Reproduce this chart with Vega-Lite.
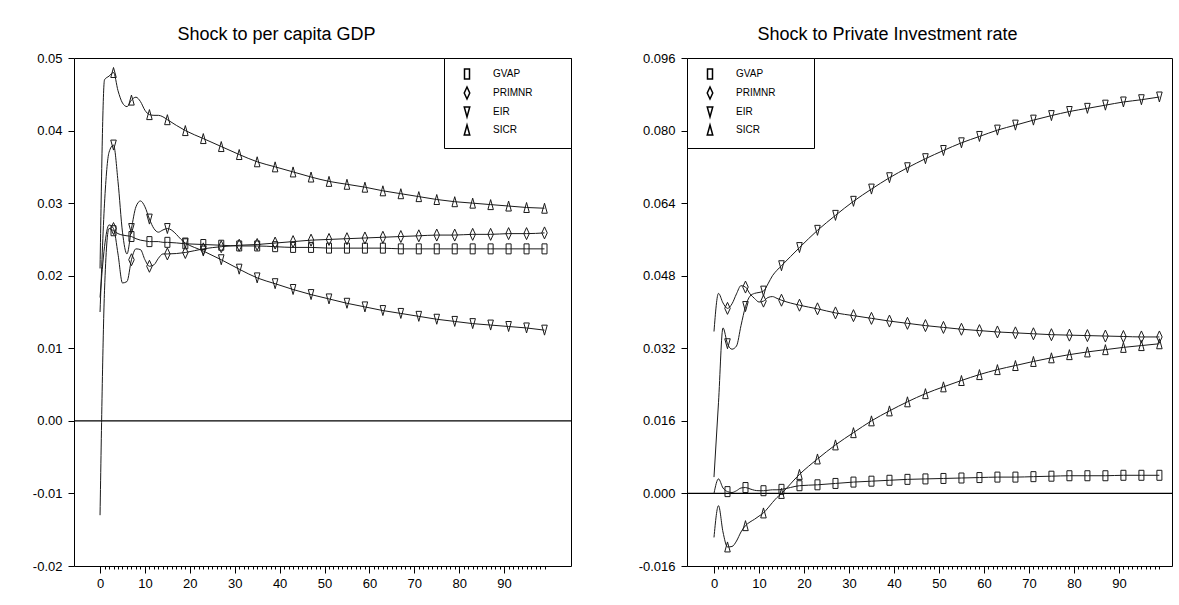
{
  "$schema": "https://vega.github.io/schema/vega-lite/v6.json",
  "background": "white",
  "padding": {"left": 31, "top": 25, "right": 0, "bottom": 0},
  "config": {
    "font": "'Liberation Sans', Arial, sans-serif",
    "view": {"stroke": "black", "strokeWidth": 1},
    "axis": {"domain": false, "grid": false, "tickColor": "black", "labelColor": "black", "labelFontSize": 13, "labelFont": "'Liberation Sans', Arial, sans-serif", "title": null},
    "title": {"fontSize": 18, "fontWeight": "normal", "color": "black", "offset": 8, "font": "'Liberation Sans', Arial, sans-serif"}
  },
  "datasets": {
    "gdp": [
      {"t": 0, "GVAP": -0.013, "PRIMNR": 0.017, "EIR": 0.015, "SICR": 0.021},
      {"t": 1, "GVAP": 0.018, "PRIMNR": 0.024, "EIR": 0.030, "SICR": 0.047},
      {"t": 2, "GVAP": 0.0265, "PRIMNR": 0.027, "EIR": 0.037, "SICR": 0.0475},
      {"t": 3, "GVAP": 0.0262, "PRIMNR": 0.0265, "EIR": 0.038, "SICR": 0.048},
      {"t": 4, "GVAP": 0.0258, "PRIMNR": 0.023, "EIR": 0.033, "SICR": 0.0455},
      {"t": 5, "GVAP": 0.0256, "PRIMNR": 0.019, "EIR": 0.026, "SICR": 0.0438},
      {"t": 6, "GVAP": 0.0255, "PRIMNR": 0.0192, "EIR": 0.023, "SICR": 0.0433},
      {"t": 7, "GVAP": 0.0254, "PRIMNR": 0.0222, "EIR": 0.0265, "SICR": 0.0442},
      {"t": 8, "GVAP": 0.0251, "PRIMNR": 0.0237, "EIR": 0.0295, "SICR": 0.0446},
      {"t": 9, "GVAP": 0.0249, "PRIMNR": 0.0236, "EIR": 0.0303, "SICR": 0.0440},
      {"t": 10, "GVAP": 0.0248, "PRIMNR": 0.0222, "EIR": 0.0295, "SICR": 0.0428},
      {"t": 11, "GVAP": 0.0247, "PRIMNR": 0.0213, "EIR": 0.0278, "SICR": 0.0422},
      {"t": 12, "GVAP": 0.0247, "PRIMNR": 0.0215, "EIR": 0.0265, "SICR": 0.0421},
      {"t": 13, "GVAP": 0.0247, "PRIMNR": 0.0224, "EIR": 0.0260, "SICR": 0.0421},
      {"t": 14, "GVAP": 0.0246, "PRIMNR": 0.0230, "EIR": 0.0263, "SICR": 0.0419},
      {"t": 15, "GVAP": 0.0246, "PRIMNR": 0.0230, "EIR": 0.0265, "SICR": 0.0415},
      {"t": 19, "GVAP": 0.0244, "PRIMNR": 0.0232, "EIR": 0.0245, "SICR": 0.0400},
      {"t": 23, "GVAP": 0.0243, "PRIMNR": 0.0237, "EIR": 0.0234, "SICR": 0.0389},
      {"t": 27, "GVAP": 0.0242, "PRIMNR": 0.0240, "EIR": 0.0222, "SICR": 0.0378},
      {"t": 31, "GVAP": 0.0241, "PRIMNR": 0.0242, "EIR": 0.0209, "SICR": 0.0367},
      {"t": 35, "GVAP": 0.0241, "PRIMNR": 0.0243, "EIR": 0.0197, "SICR": 0.0357},
      {"t": 39, "GVAP": 0.0240, "PRIMNR": 0.0245, "EIR": 0.0189, "SICR": 0.0350},
      {"t": 43, "GVAP": 0.0239, "PRIMNR": 0.0247, "EIR": 0.0181, "SICR": 0.0343},
      {"t": 47, "GVAP": 0.0239, "PRIMNR": 0.0249, "EIR": 0.0174, "SICR": 0.0336},
      {"t": 51, "GVAP": 0.0238, "PRIMNR": 0.0250, "EIR": 0.0168, "SICR": 0.0330},
      {"t": 55, "GVAP": 0.0238, "PRIMNR": 0.0251, "EIR": 0.0162, "SICR": 0.0326},
      {"t": 59, "GVAP": 0.0238, "PRIMNR": 0.0252, "EIR": 0.0157, "SICR": 0.0322},
      {"t": 63, "GVAP": 0.0238, "PRIMNR": 0.0253, "EIR": 0.0152, "SICR": 0.0317},
      {"t": 67, "GVAP": 0.0237, "PRIMNR": 0.0254, "EIR": 0.0148, "SICR": 0.0313},
      {"t": 71, "GVAP": 0.0237, "PRIMNR": 0.0255, "EIR": 0.0144, "SICR": 0.0309},
      {"t": 75, "GVAP": 0.0237, "PRIMNR": 0.0256, "EIR": 0.0140, "SICR": 0.0305},
      {"t": 79, "GVAP": 0.0237, "PRIMNR": 0.0256, "EIR": 0.0137, "SICR": 0.0302},
      {"t": 83, "GVAP": 0.0237, "PRIMNR": 0.0257, "EIR": 0.0134, "SICR": 0.0300},
      {"t": 87, "GVAP": 0.0237, "PRIMNR": 0.0257, "EIR": 0.0132, "SICR": 0.0298},
      {"t": 91, "GVAP": 0.0237, "PRIMNR": 0.0258, "EIR": 0.0130, "SICR": 0.0296},
      {"t": 95, "GVAP": 0.0237, "PRIMNR": 0.0258, "EIR": 0.0128, "SICR": 0.0294},
      {"t": 99, "GVAP": 0.0237, "PRIMNR": 0.0259, "EIR": 0.0125, "SICR": 0.0293}
    ],
    "inv": [
      {"t": 0, "GVAP": 0.0000, "PRIMNR": 0.0357, "EIR": 0.0036, "SICR": -0.0097},
      {"t": 1, "GVAP": 0.0032, "PRIMNR": 0.0441, "EIR": 0.0200, "SICR": -0.0027},
      {"t": 2, "GVAP": 0.0012, "PRIMNR": 0.0420, "EIR": 0.0365, "SICR": -0.0085},
      {"t": 3, "GVAP": 0.0004, "PRIMNR": 0.0408, "EIR": 0.0330, "SICR": -0.0118},
      {"t": 4, "GVAP": 0.0002, "PRIMNR": 0.0418, "EIR": 0.0318, "SICR": -0.0117},
      {"t": 5, "GVAP": 0.0006, "PRIMNR": 0.0440, "EIR": 0.0325, "SICR": -0.0105},
      {"t": 6, "GVAP": 0.0012, "PRIMNR": 0.0458, "EIR": 0.0370, "SICR": -0.0085},
      {"t": 7, "GVAP": 0.0013, "PRIMNR": 0.0455, "EIR": 0.0412, "SICR": -0.0071},
      {"t": 8, "GVAP": 0.0010, "PRIMNR": 0.0440, "EIR": 0.0435, "SICR": -0.0063},
      {"t": 9, "GVAP": 0.0007, "PRIMNR": 0.0430, "EIR": 0.0441, "SICR": -0.0057},
      {"t": 10, "GVAP": 0.0006, "PRIMNR": 0.0422, "EIR": 0.0443, "SICR": -0.0050},
      {"t": 11, "GVAP": 0.0006, "PRIMNR": 0.0424, "EIR": 0.0446, "SICR": -0.0043},
      {"t": 12, "GVAP": 0.0007, "PRIMNR": 0.0432, "EIR": 0.0462, "SICR": -0.0032},
      {"t": 13, "GVAP": 0.0008, "PRIMNR": 0.0434, "EIR": 0.0480, "SICR": -0.0020},
      {"t": 14, "GVAP": 0.0008, "PRIMNR": 0.0430, "EIR": 0.0492, "SICR": -0.0009},
      {"t": 15, "GVAP": 0.0009, "PRIMNR": 0.0426, "EIR": 0.0502, "SICR": 0.0000},
      {"t": 19, "GVAP": 0.0017, "PRIMNR": 0.0415, "EIR": 0.0542, "SICR": 0.0042},
      {"t": 23, "GVAP": 0.0019, "PRIMNR": 0.0407, "EIR": 0.0580, "SICR": 0.0076},
      {"t": 27, "GVAP": 0.0022, "PRIMNR": 0.0398, "EIR": 0.0613, "SICR": 0.0107},
      {"t": 31, "GVAP": 0.0025, "PRIMNR": 0.0392, "EIR": 0.0644, "SICR": 0.0134},
      {"t": 35, "GVAP": 0.0027, "PRIMNR": 0.0386, "EIR": 0.0671, "SICR": 0.0160},
      {"t": 39, "GVAP": 0.0029, "PRIMNR": 0.0380, "EIR": 0.0696, "SICR": 0.0182},
      {"t": 43, "GVAP": 0.0031, "PRIMNR": 0.0375, "EIR": 0.0718, "SICR": 0.0202},
      {"t": 47, "GVAP": 0.0032, "PRIMNR": 0.0370, "EIR": 0.0738, "SICR": 0.0220},
      {"t": 51, "GVAP": 0.0033, "PRIMNR": 0.0366, "EIR": 0.0756, "SICR": 0.0235},
      {"t": 55, "GVAP": 0.0034, "PRIMNR": 0.0362, "EIR": 0.0773, "SICR": 0.0249},
      {"t": 59, "GVAP": 0.0035, "PRIMNR": 0.0359, "EIR": 0.0787, "SICR": 0.0262},
      {"t": 63, "GVAP": 0.0036, "PRIMNR": 0.0356, "EIR": 0.0801, "SICR": 0.0273},
      {"t": 67, "GVAP": 0.0036, "PRIMNR": 0.0354, "EIR": 0.0812, "SICR": 0.0282},
      {"t": 71, "GVAP": 0.0037, "PRIMNR": 0.0352, "EIR": 0.0823, "SICR": 0.0291},
      {"t": 75, "GVAP": 0.0038, "PRIMNR": 0.0350, "EIR": 0.0833, "SICR": 0.0299},
      {"t": 79, "GVAP": 0.0039, "PRIMNR": 0.0349, "EIR": 0.0842, "SICR": 0.0306},
      {"t": 83, "GVAP": 0.0039, "PRIMNR": 0.0348, "EIR": 0.0849, "SICR": 0.0312},
      {"t": 87, "GVAP": 0.0039, "PRIMNR": 0.0347, "EIR": 0.0856, "SICR": 0.0317},
      {"t": 91, "GVAP": 0.0040, "PRIMNR": 0.0346, "EIR": 0.0863, "SICR": 0.0322},
      {"t": 95, "GVAP": 0.0040, "PRIMNR": 0.0345, "EIR": 0.0868, "SICR": 0.0326},
      {"t": 99, "GVAP": 0.0040, "PRIMNR": 0.0345, "EIR": 0.0874, "SICR": 0.0330}
    ]
  },
  "spacing": 64,
  "resolve": {"scale": {"shape": "independent"}, "legend": {"shape": "independent"}},
  "hconcat": [
    {
      "title": {"text": "Shock to per capita GDP", "dx": -46},
      "width": 497,
      "height": 508,
      "data": {"name": "gdp"},
      "transform": [{"fold": ["GVAP", "PRIMNR", "EIR", "SICR"], "as": ["series", "value"]}],
      "resolve": {"axis": {"x": "independent"}},
      "layer": [
        {
          "data": {"values": [{}]},
          "mark": {"type": "rule", "color": "black", "strokeWidth": 1.3},
          "encoding": {"y": {"datum": 0, "type": "quantitative", "scale": {"domain": [-0.02, 0.05], "nice": false, "zero": false}}}
        },
        {
          "mark": {"type": "line", "color": "#1a1a1a", "strokeWidth": 1, "interpolate": "monotone"},
          "encoding": {
            "x": {"field": "t", "type": "quantitative", "scale": {"domain": [-5.8, 104.9], "nice": false, "zero": false},
              "axis": {"orient": "bottom", "values": [0, 10, 20, 30, 40, 50, 60, 70, 80, 90], "tickSize": 7, "labelPadding": 4, "labelFlush": false}},
            "y": {"field": "value", "type": "quantitative", "scale": {"domain": [-0.02, 0.05], "nice": false, "zero": false},
              "axis": {"values": [-0.02, -0.01, 0, 0.01, 0.02, 0.03, 0.04, 0.05], "format": ".2f", "labelExpr": "replace(datum.label, '\u2212', '-')", "tickSize": 6, "labelPadding": 6}},
            "detail": {"field": "series", "type": "nominal"}
          }
        },
        {
          "transform": [{"filter": "(datum.t - 3) % 4 === 0"}],
          "mark": {"type": "point", "filled": false, "stroke": "#1a1a1a", "strokeWidth": 1, "opacity": 1, "size": 100},
          "encoding": {
            "x": {"field": "t", "type": "quantitative", "scale": {"domain": [-5.8, 104.9], "nice": false, "zero": false},
              "axis": {"orient": "bottom", "values": [0,1,2,3,4,5,6,7,8,9,11,12,13,14,15,16,17,18,19,21,22,23,24,25,26,27,28,29,31,32,33,34,35,36,37,38,39,41,42,43,44,45,46,47,48,49,51,52,53,54,55,56,57,58,59,61,62,63,64,65,66,67,68,69,71,72,73,74,75,76,77,78,79,81,82,83,84,85,86,87,88,89,91,92,93,94,95,96,97,98,99], "tickSize": 3, "labels": false}},
            "y": {"field": "value", "type": "quantitative", "scale": {"domain": [-0.02, 0.05], "nice": false, "zero": false}},
            "shape": {"field": "series", "type": "nominal",
              "scale": {"domain": ["GVAP", "PRIMNR", "EIR", "SICR"], "range": ["M-0.5,-1L0.5,-1L0.5,1L-0.5,1Z", "M0,-1.2L0.55,0L0,1.2L-0.55,0Z", "M-0.55,-1L0.55,-1L0,1Z", "M0,-1L0.55,1L-0.55,1Z"]},
              "legend": {"orient": "top-right", "offset": 0, "title": null, "strokeColor": "black", "fillColor": "white", "padding": 10, "rowPadding": 2, "symbolOffset": 7, "labelOffset": 20, "labelFontSize": 10, "labelColor": "black", "symbolSize": 100, "symbolStrokeColor": "black",
                "labelExpr": "datum.label + '\u2800\u2800\u2800\u2800'"}}
          }
        }
      ]
    },
    {
      "title": {"text": "Shock to Private Investment rate", "dx": -42},
      "width": 485,
      "height": 508,
      "data": {"name": "inv"},
      "transform": [{"fold": ["GVAP", "PRIMNR", "EIR", "SICR"], "as": ["series", "value"]}],
      "resolve": {"axis": {"x": "independent"}},
      "layer": [
        {
          "data": {"values": [{}]},
          "mark": {"type": "rule", "color": "black", "strokeWidth": 1.3},
          "encoding": {"y": {"datum": 0, "type": "quantitative", "scale": {"domain": [-0.016, 0.096], "nice": false, "zero": false}}}
        },
        {
          "mark": {"type": "line", "color": "#1a1a1a", "strokeWidth": 1, "interpolate": "monotone"},
          "encoding": {
            "x": {"field": "t", "type": "quantitative", "scale": {"domain": [-6, 101.8], "nice": false, "zero": false},
              "axis": {"orient": "bottom", "values": [0, 10, 20, 30, 40, 50, 60, 70, 80, 90], "tickSize": 7, "labelPadding": 4, "labelFlush": false}},
            "y": {"field": "value", "type": "quantitative", "scale": {"domain": [-0.016, 0.096], "nice": false, "zero": false},
              "axis": {"values": [-0.016, 0, 0.016, 0.032, 0.048, 0.064, 0.08, 0.096], "format": ".3f", "labelExpr": "replace(datum.label, '\u2212', '-')", "tickSize": 6, "labelPadding": 6}},
            "detail": {"field": "series", "type": "nominal"}
          }
        },
        {
          "transform": [{"filter": "(datum.t - 3) % 4 === 0"}],
          "mark": {"type": "point", "filled": false, "stroke": "#1a1a1a", "strokeWidth": 1, "opacity": 1, "size": 100},
          "encoding": {
            "x": {"field": "t", "type": "quantitative", "scale": {"domain": [-6, 101.8], "nice": false, "zero": false},
              "axis": {"orient": "bottom", "values": [0,1,2,3,4,5,6,7,8,9,11,12,13,14,15,16,17,18,19,21,22,23,24,25,26,27,28,29,31,32,33,34,35,36,37,38,39,41,42,43,44,45,46,47,48,49,51,52,53,54,55,56,57,58,59,61,62,63,64,65,66,67,68,69,71,72,73,74,75,76,77,78,79,81,82,83,84,85,86,87,88,89,91,92,93,94,95,96,97,98,99], "tickSize": 3, "labels": false}},
            "y": {"field": "value", "type": "quantitative", "scale": {"domain": [-0.016, 0.096], "nice": false, "zero": false}},
            "shape": {"field": "series", "type": "nominal",
              "scale": {"domain": ["GVAP", "PRIMNR", "EIR", "SICR"], "range": ["M-0.5,-1L0.5,-1L0.5,1L-0.5,1Z", "M0,-1.2L0.55,0L0,1.2L-0.55,0Z", "M-0.55,-1L0.55,-1L0,1Z", "M0,-1L0.55,1L-0.55,1Z"]},
              "legend": {"orient": "top-left", "offset": 0, "title": null, "strokeColor": "black", "fillColor": "white", "padding": 10, "rowPadding": 2, "symbolOffset": 7, "labelOffset": 20, "labelFontSize": 10, "labelColor": "black", "symbolSize": 100, "symbolStrokeColor": "black",
                "labelExpr": "datum.label + '\u2800\u2800\u2800\u2800'"}}
          }
        }
      ]
    }
  ]
}
